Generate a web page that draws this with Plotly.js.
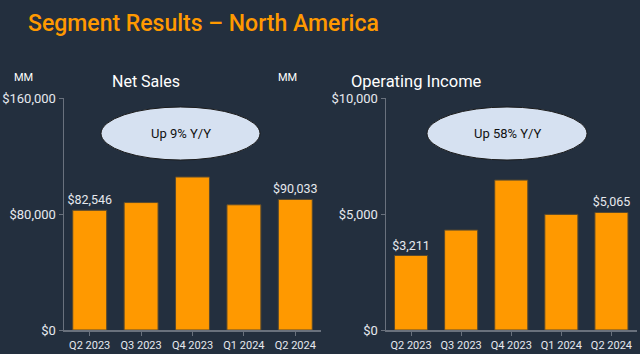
<!DOCTYPE html>
<html>
<head>
<meta charset="utf-8">
<script src="https://cdn.plot.ly/plotly-3.0.1.min.js"></script>
<style>html,body{margin:0;padding:0;background:#232F3E;}#chart{width:640px;height:354px;}</style>
</head>
<body>
<div id="chart"></div>
<script>
const categories = ["Q2 2023", "Q3 2023", "Q4 2023", "Q1 2024", "Q2 2024"];
const netSales = [82546, 87887, 105514, 86341, 90033];
const operatingIncome = [3211, 4307, 6461, 4983, 5065];
const netSalesLabels = ["$82,546", "", "", "", "$90,033"];
const opIncomeLabels = ["$3,211", "", "", "", "$5,065"];
const netSalesTicks = [0, 80000, 160000];
const netSalesTickText = ["$0", "$80,000", "$160,000"];
const opIncomeTicks = [0, 5000, 10000];
const opIncomeTickText = ["$0", "$5,000", "$10,000"];

const FONT = "Roboto, Noto Sans, sans-serif";
const ORANGE = "#FF9900";
const TXT = "#E6E9EE";
const AX = "#69717D";

const traces = [
  {type: "bar", x: categories, y: netSales, text: netSalesLabels, textposition: "outside", constraintext: "none",
   textfont: {color: TXT, size: 12.5, family: FONT}, cliponaxis: false,
   marker: {color: ORANGE, line: {color: "#5A4A2E", width: 1}}, xaxis: "x", yaxis: "y", hoverinfo: "none"},
  {type: "bar", x: categories, y: operatingIncome, text: opIncomeLabels, textposition: "outside", constraintext: "none",
   textfont: {color: TXT, size: 12.5, family: FONT}, cliponaxis: false,
   marker: {color: ORANGE, line: {color: "#5A4A2E", width: 1}}, xaxis: "x2", yaxis: "y2", hoverinfo: "none"}
];

const yTop = 1 - 98/354, yBot = 1 - 330/354;
const axisCommon = {showgrid: false, zeroline: false, showline: true, linecolor: AX, linewidth: 1.5,
  tickfont: {color: TXT, size: 13, family: FONT}, ticks: "outside", ticklen: 4, tickcolor: AX};
const xFont = {color: TXT, size: 11, family: FONT};

const layout = {
  width: 640, height: 354,
  paper_bgcolor: "#232F3E", plot_bgcolor: "#232F3E",
  margin: {l: 0, r: 0, t: 0, b: 0},
  showlegend: false, bargap: 0.34,
  font: {family: FONT, color: TXT},
  xaxis: Object.assign({}, axisCommon, {domain: [64/640, 321/640], anchor: "y", tickfont: xFont, tickangle: 0}),
  yaxis: Object.assign({}, axisCommon, {domain: [yBot, yTop], anchor: "x", range: [0, 160000],
    tickmode: "array", tickvals: netSalesTicks, ticktext: netSalesTickText}),
  xaxis2: Object.assign({}, axisCommon, {domain: [386/640, 636.5/640], anchor: "y2", tickfont: xFont, tickangle: 0}),
  yaxis2: Object.assign({}, axisCommon, {domain: [yBot, yTop], anchor: "x2", range: [0, 10000],
    tickmode: "array", tickvals: opIncomeTicks, ticktext: opIncomeTickText}),
  shapes: [
    {type: "circle", xref: "paper", yref: "paper", x0: 101/640, x1: 260/640, y0: 1-160/354, y1: 1-107/354,
     fillcolor: "#D6E1F1", line: {color: "#1A1A1A", width: 1}},
    {type: "circle", xref: "paper", yref: "paper", x0: 427/640, x1: 587/640, y0: 1-160/354, y1: 1-107/354,
     fillcolor: "#D6E1F1", line: {color: "#1A1A1A", width: 1}}
  ],
  annotations: [
    {text: "Segment Results – North America", xref: "paper", yref: "paper", x: 26/640, y: 1-23/354,
     xanchor: "left", yanchor: "middle", showarrow: false,
     font: {family: FONT, size: 23, color: ORANGE, weight: 500}},
    {text: "Net Sales", xref: "paper", yref: "paper", x: 145.5/640, y: 1-81/354, xanchor: "center", yanchor: "middle",
     showarrow: false, font: {family: FONT, size: 16, color: "#FFFFFF"}},
    {text: "Operating Income", xref: "paper", yref: "paper", x: 416/640, y: 1-81/354, xanchor: "center", yanchor: "middle",
     showarrow: false, font: {family: FONT, size: 16.5, color: "#FFFFFF"}},
    {text: "MM", xref: "paper", yref: "paper", x: 23/640, y: 1-78/354, xanchor: "center", yanchor: "middle",
     showarrow: false, font: {family: FONT, size: 11, color: "#FFFFFF"}},
    {text: "MM", xref: "paper", yref: "paper", x: 287/640, y: 1-78/354, xanchor: "center", yanchor: "middle",
     showarrow: false, font: {family: FONT, size: 11, color: "#FFFFFF"}},
    {text: "Up 9% Y/Y", xref: "paper", yref: "paper", x: 180.5/640, y: 1-133/354, xanchor: "center", yanchor: "middle",
     showarrow: false, font: {family: FONT, size: 13, color: "#111111"}},
    {text: "Up 58% Y/Y", xref: "paper", yref: "paper", x: 507/640, y: 1-133/354, xanchor: "center", yanchor: "middle",
     showarrow: false, font: {family: FONT, size: 13, color: "#111111"}}
  ]
};

Plotly.newPlot("chart", traces, layout, {staticPlot: true, displayModeBar: false});
</script>
</body>
</html>
